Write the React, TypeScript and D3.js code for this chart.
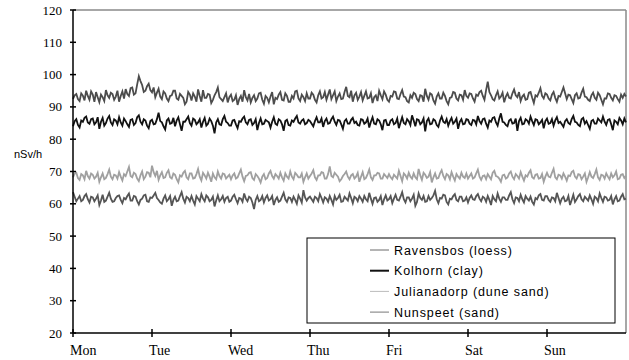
import React from 'react';
import * as d3 from 'd3';

// half-hourly dose rate, nSv/h, Mon 00:00 .. Sun 24:00 (one row per day)
const days = ['Mon', 'Tue', 'Wed', 'Thu', 'Fri', 'Sat', 'Sun'];
const yTicks = [20, 30, 40, 50, 60, 70, 80, 90, 100, 110, 120];

const ravensbos = [
  92.5, 93.6, 94, 92.4, 91.8, 94.2, 93.5, 92, 95, 93.4, 92.2, 94.8, 93.8, 91.6, 94.6, 93, 91.5, 93.8, 93, 91.8, 95.2, 93.6, 92.8, 94.4, 94, 92.2, 93.2, 95, 91.6, 93.4, 94.8, 92.6, 95.5, 94, 93.4, 95.8, 96, 93.8, 94.2, 97, 99.5, 98, 96.8, 94.6, 95, 96.4, 97.2, 95.2,
  94.5, 96, 93, 94.4, 95.6, 93.2, 92.4, 94.8, 94.2, 92.6, 91.8, 93.4, 93.6, 95, 95, 92.6, 92.2, 94, 93.4, 92.8, 90.8, 91.6, 94.6, 93.8, 92, 94.2, 93.2, 91.6, 95.4, 93.4, 91.6, 95.2, 92.8, 92.8, 94, 93.8, 91.2, 92.2, 93.6, 94.6, 96, 93, 92.4, 91.8, 93, 94.2, 91.4, 93,
  93.8, 91.8, 92.2, 93.6, 90.6, 92.4, 93.4, 91.6, 95.2, 93, 92, 94, 91.4, 92.8, 93.6, 91.8, 92.6, 94.2, 94.4, 92.2, 91, 93.4, 92.8, 91.4, 93.2, 94.6, 90.8, 92.8, 92.4, 93.8, 94.6, 92.2, 92, 94.2, 93.4, 91.6, 91.6, 93.4, 92.6, 94.8, 95, 92.6, 91.8, 93.8, 93, 91.8, 94.2, 92.6,
  92.6, 94.4, 93.8, 92.2, 91.4, 93.6, 94.8, 92.6, 93, 94.6, 92.2, 93.8, 95.4, 92.4, 93.6, 94.8, 91.8, 93.2, 94.2, 92.4, 92.6, 94.6, 96.2, 93.4, 93, 95, 91.6, 93.6, 94.4, 92.2, 93.2, 94.6, 92, 93.4, 94.8, 92.6, 92.8, 94.2, 91.2, 93, 93.6, 91.8, 95, 93.6, 92.4, 94.8, 93.8, 92.2,
  91.6, 93.4, 93.2, 94.8, 94.6, 92.6, 92.4, 94, 95.2, 93.2, 93, 91.8, 91.4, 93.6, 92.8, 94.4, 94, 92.4, 91.8, 93.6, 93.4, 91.6, 95.6, 93.4, 92.2, 94.2, 93.8, 92, 91, 93.2, 94.2, 92.6, 92.6, 94.4, 93.4, 91.8, 90.8, 92.8, 93, 94.6, 94.4, 92.6, 92, 93.8, 93.6, 92.2, 95.2, 93.4,
  92.8, 94.2, 94, 92.6, 91.6, 93.8, 93.4, 94.6, 95, 93.4, 92.2, 95.2, 97.8, 94.6, 93.6, 92.4, 92, 93.6, 94.8, 92.6, 93.2, 94.4, 91.4, 93.2, 94.2, 92.8, 92.6, 94.2, 95.4, 93.6, 93, 94.6, 91.8, 93.2, 93.8, 92.2, 92.4, 94.4, 94.6, 92.8, 91.2, 93.6, 93.2, 94.4, 95.8, 93.4, 92.6, 94.2,
  93.8, 92.6, 92, 93.8, 94.6, 92.8, 91.6, 93.4, 93.2, 94.6, 96, 94.2, 92.4, 93.8, 93.6, 92.4, 91.2, 93.6, 94.2, 92.6, 92.8, 94.4, 95.6, 93.2, 93, 92.2, 91.8, 93.6, 94.4, 92.8, 92.2, 94.4, 93.6, 92.2, 90.8, 92.6, 92.6, 94.2, 94, 92.8, 92, 93.6, 93.4, 92.4, 91.6, 93.8, 92.8, 94, 93.2,
];

const kolhorn = [
  84, 85.6, 86.2, 84.4, 83.6, 85.8, 85.4, 86.6, 87, 85.2, 84.8, 86.2, 86.4, 84.6, 85.2, 86.8, 83.2, 85.4, 86.6, 84.2, 85, 86.4, 87.2, 85.2, 84.4, 86.2, 85.8, 84.6, 86.8, 85.2, 84.2, 86.4, 85.6, 84.6, 83.8, 86, 86.2, 84.4, 85, 86.8, 87.4, 85.4, 84.6, 86.2, 85.8, 84.2, 83.4, 85.6,
  86, 84.6, 84.8, 86.2, 88.2, 85.6, 85.2, 84, 83, 85.8, 86.4, 84.8, 85, 86.6, 84, 85.8, 86.8, 84.6, 82.6, 85.4, 85.4, 86.2, 87, 85, 84.2, 86.4, 86, 84.6, 85.2, 86.2, 83.6, 85.4, 86.6, 84.2, 84.8, 86.4, 85.6, 84.2, 81.8, 85.2, 86.2, 84.6, 84.4, 86.2, 87.2, 85.4, 85, 84.2,
  84.2, 85.8, 86, 84.6, 83.4, 85.6, 85.4, 86.4, 87, 85.2, 84.6, 86, 86.2, 84.4, 85, 86.2, 82.8, 85, 86.4, 84.6, 84.8, 86, 85.6, 85.2, 83.6, 85.4, 86.8, 84.8, 84.4, 86.2, 85.8, 84.6, 82.6, 85.6, 86, 84.4, 84.2, 85.8, 85.4, 86.4, 87.2, 85.2, 84.8, 85.8, 86.2, 84.6, 85, 86,
  85.6, 84.8, 84, 85.6, 86.8, 85.2, 85.2, 86.4, 83.8, 85.6, 86.4, 84.8, 85, 86.2, 87, 85.4, 84.4, 86, 85.8, 84.6, 83.2, 85.6, 86.2, 84.8, 84.8, 86, 86.6, 85, 85.4, 84.4, 84.2, 86.2, 86, 84.8, 85.2, 86.4, 83.6, 85.4, 86.8, 84.8, 84.6, 86.2, 85.8, 84.6, 82.8, 85.8, 86, 84.4,
  84.4, 85.8, 86.2, 84.6, 85, 86.4, 83.4, 85.2, 86.8, 85, 84.6, 86.2, 85.6, 84.4, 87.4, 85.8, 84, 86.2, 86, 84.6, 85.2, 86.4, 82.4, 85.6, 86.4, 84.6, 84.8, 86.2, 85.8, 84.4, 83.8, 85.8, 87, 85.4, 85, 86.2, 84.2, 85.6, 86.6, 84.8, 85.4, 86.4, 83.2, 85.4, 86.2, 84.6, 84.8, 86.2,
  86, 84.8, 84.4, 86, 85.8, 84.6, 87.2, 85.6, 84.8, 86.2, 86.4, 84.8, 83.6, 85.8, 85.4, 86.6, 86.8, 85.2, 84.2, 86.4, 88, 85.4, 85.2, 84.4, 84, 85.8, 86.2, 84.8, 85, 86.4, 82.6, 85.6, 86.6, 84.6, 84.8, 86.2, 85.8, 84.8, 87, 85.6, 84.4, 86.2, 86, 84.6, 85.2, 86, 83.4, 85.6,
  86.4, 84.8, 85, 86.2, 84.2, 85.8, 86.8, 85, 85.4, 84.6, 83.8, 85.6, 86.2, 85, 84.6, 86.2, 87.2, 85.4, 85.2, 84.4, 84, 86.2, 86.6, 84.8, 85.6, 84.4, 83.2, 85.6, 86, 84.8, 84.8, 86.4, 85.8, 85.2, 87, 85.4, 84.4, 86, 86.2, 84.6, 82.8, 85.8, 85.4, 84.6, 86.6, 85.8, 84.6, 86.4, 85.2,
];

const julianadorp = [
  68.2, 69.4, 69.6, 68, 67.4, 69.2, 68.8, 67.6, 70.2, 68.6, 67.8, 69.4, 69, 67.8, 68.4, 69.6, 66.8, 68.2, 69.4, 67.6, 68, 69.2, 70.6, 68.4, 67.6, 69, 68.8, 67.8, 69.8, 68.4, 67.2, 69.2, 68.6, 70, 71.4, 68.6, 68.2, 69.6, 69.2, 67.8, 67, 68.8, 70, 67.6, 68.4, 69.8, 69.6, 68.2,
  71.8, 69.8, 68.6, 70.2, 67.4, 68.8, 69.8, 68, 68.2, 69.6, 70.4, 68.2, 67.8, 69.4, 69, 67.6, 66.6, 68.8, 68.4, 69.6, 70.2, 68.2, 67.6, 69.4, 69.4, 67.8, 68, 69.2, 70.8, 68.4, 67.2, 69.6, 68.8, 67.8, 69.6, 68.4, 66.8, 69.4, 68.2, 67.6, 70, 68.6, 67.8, 69.4, 69.2, 67.8, 68.4, 69,
  67.6, 68.8, 69.4, 67.8, 68.2, 69.4, 70.6, 68.4, 67, 68.6, 68.8, 69.6, 69.8, 68, 67.4, 69.2, 68.6, 67.8, 66.6, 68.4, 69.2, 67.6, 68, 69.4, 70.2, 68.6, 67.8, 69.2, 68.6, 67.8, 69.6, 68.2, 67.2, 69.4, 68.4, 67.8, 70, 68.4, 67.6, 69.6, 69, 68.2, 68.2, 69.4, 66.8, 68.2, 69.4, 67.8,
  68.6, 69.4, 70.4, 68.2, 67.4, 68.8, 68.8, 69.8, 69.6, 67.8, 67.8, 69.2, 71.6, 68.6, 68.2, 69.6, 69, 68.4, 67, 67.6, 68.6, 69.2, 70, 68.4, 67.6, 68.8, 69.2, 67.8, 68.4, 69.6, 66.8, 68.4, 69.8, 67.6, 68, 69.2, 70.6, 68.2, 67.4, 68.8, 68.8, 69.6, 69.4, 67.8, 67.8, 69.2, 68.6, 68,
  69.2, 68.2, 67.6, 69, 68.4, 67.8, 70.2, 68.6, 67, 69.4, 68.8, 67.8, 69.6, 68.4, 67.8, 69.4, 68.2, 67.6, 70.8, 68.8, 67.4, 69.6, 69, 68, 68.4, 69.8, 66.6, 68.2, 69.4, 67.8, 68, 69.4, 70.4, 68.6, 67.6, 69.2, 68.8, 67.6, 69.8, 68.4, 67.2, 69.2, 68.4, 67.8, 69.6, 68.4, 68, 69.4,
  67.8, 68.6, 69.4, 67.8, 68.2, 69.4, 70.6, 68.4, 67.4, 68.6, 68.8, 67.6, 69.2, 68.4, 67.6, 69.6, 70.2, 68.6, 68.4, 67.8, 66.8, 68.8, 69, 67.8, 68.2, 69.4, 70, 68.4, 67.6, 69.2, 68.6, 67.8, 69.8, 68.4, 67.2, 68.8, 68.4, 69.6, 70.4, 68.2, 67.8, 69, 69.2, 67.8, 68, 69.2, 66.8, 68.4,
  69.6, 68.4, 68.2, 69.6, 70.8, 68.2, 67.6, 69, 68.8, 67.8, 69.4, 68.4, 67.2, 68.8, 68.6, 69.8, 70.2, 68.4, 67.8, 69.2, 69, 67.6, 68.4, 69.4, 66.8, 68.2, 69.8, 68.4, 68, 69.2, 70.6, 68.2, 67.4, 69, 68.8, 67.8, 69.4, 68.4, 67.6, 69.4, 68.2, 68.8, 70, 67.6, 67.8, 69, 69.2, 68, 68.6,
];

const nunspeet = [
  63.6, 62.2, 60.8, 61.6, 62.4, 60.8, 61.2, 62.4, 63, 61.4, 60.4, 62.2, 62, 60.8, 61.6, 62.6, 59.6, 61, 62.8, 60.6, 61, 62.2, 63.4, 61.6, 60.6, 60.8, 61.8, 62.4, 62.6, 61.2, 60.2, 61.8, 61.4, 62.4, 63.2, 61, 61, 62.4, 62.2, 60.8, 59.8, 61.2, 61.6, 62.6, 62.8, 60.8, 60.6, 62,
  61.8, 62.6, 63.4, 61.8, 61.2, 60.4, 60, 61.6, 62.6, 60.8, 61.4, 62.4, 59.4, 61.2, 62.2, 60.8, 61, 62.4, 63.6, 61.6, 60.4, 62.2, 61.8, 60.8, 62.4, 61, 59.8, 62.4, 61.6, 60.8, 63, 61.6, 60.8, 62.6, 62, 60.8, 61.2, 62.2, 59.2, 61, 62.6, 60.8, 61.4, 62.4, 60.6, 61.8, 62.2, 60.6,
  61, 62.2, 62.8, 61.4, 60.2, 61.8, 61.6, 60.6, 63.2, 61.6, 60.8, 62.2, 61.8, 60.4, 58.4, 61.2, 62.4, 60.8, 61.2, 62.4, 60.4, 61.8, 62.6, 61, 61.4, 62.4, 59.6, 61.2, 62, 60.6, 61, 62.2, 63.4, 61.4, 60.6, 62, 61.8, 60.6, 62.2, 61.2, 60, 62.6, 61.6, 60.4, 64.2, 62, 61, 61.8,
  62.2, 61.4, 60.6, 62.2, 61.8, 60.8, 63, 61.8, 60.4, 62, 61.6, 60.6, 62.4, 61.2, 59.8, 62.4, 61.2, 61.8, 62.8, 60.6, 60.8, 62.2, 61.6, 61, 63.2, 61.8, 60.2, 62.2, 61.8, 60.8, 62.4, 61.6, 60.6, 62.4, 61.4, 60.8, 63.4, 61.6, 60, 61.8, 62, 60.6, 61.2, 62.4, 59.6, 61.4, 62.6, 61,
  61.4, 62.4, 60.2, 61.6, 62.8, 61.2, 61, 62.2, 63.6, 61.4, 60.4, 62, 62, 60.8, 61.6, 62.8, 59.4, 60.6, 63.2, 61.8, 61.2, 62.4, 60.6, 60.8, 62.4, 61.2, 61.8, 62.6, 64, 61.4, 60.2, 61.8, 61.6, 62.8, 62.6, 60.6, 59.8, 61.6, 61.4, 62.4, 63, 61.2, 60.8, 62.2, 62.2, 60.8, 61, 62,
  60.4, 61.8, 62.6, 61.4, 61.2, 62.4, 63, 61.6, 60.8, 62.2, 61.8, 60.6, 62.4, 61.2, 59.6, 62.4, 61.4, 60.8, 63.2, 61.6, 60.6, 62, 62, 61.2, 61.2, 62.6, 63.6, 61.4, 60.2, 62, 61.8, 60.8, 62.8, 61.4, 60.4, 62.4, 61.6, 61, 62.2, 60.6, 59.8, 61.8, 61.4, 62.6, 63, 61.2, 61, 62.4,
  62.4, 61.2, 60.6, 62, 61.8, 60.8, 63.4, 61.8, 60.2, 61.6, 62.2, 60.8, 61, 62.4, 59.6, 61.2, 62.8, 60.6, 61.4, 62.4, 63, 61.4, 60.8, 62.2, 61.6, 61, 62.6, 61.4, 60, 62.2, 61.8, 60.8, 63.2, 61.8, 60.6, 62.2, 62, 61, 61.2, 62.4, 59.8, 61.4, 62.4, 60.8, 61, 62.2, 63, 61.4, 61.6,
];

const series = [
  { name: 'Ravensbos  (loess)', values: ravensbos, color: '#4c4c4c', legend: '#6a6a6a', w: 1 },
  { name: 'Kolhorn (clay)', values: kolhorn, color: '#121212', legend: '#111', w: 2 },
  { name: 'Julianadorp (dune sand)', values: julianadorp, color: '#a0a0a0', legend: '#bbb', w: 1 },
  { name: 'Nunspeet (sand)', values: nunspeet, color: '#555', legend: '#777', w: 1 },
];

const width = 629;
const height = 360;
const left = 73;
const right = 626;
const top = 10;
const bottom = 333;

export default function App() {
  const x = d3.scaleLinear().domain([0, 7 * 24]).range([left, right]); // hours
  const y = d3.scaleLinear().domain([20, 120]).range([bottom, top]);
  const line = d3.line<number>().x((_, i) => x(i / 2)).y(d => y(d));

  return (
    <svg width={width} height={height} style={{ position: 'absolute', left: 0, top: 0, background: '#fff' }}>
      {/* frame */}
      <line x1={left} x2={right} y1={top} y2={top} stroke="#8a8a8a" strokeWidth={1.5} />
      <line x1={right} x2={right} y1={top} y2={bottom} stroke="#8a8a8a" strokeWidth={1.5} />

      {series.map(s => (
        <path key={s.name} d={line(s.values) || ''} fill="none" stroke={s.color} strokeWidth={1.8} />
      ))}

      {/* y axis */}
      <line x1={left} x2={left} y1={top} y2={bottom} stroke="#000" strokeWidth={1.5} />
      {yTicks.map(t => (
        <g key={t}>
          <line x1={left - 3} x2={left + 3} y1={y(t)} y2={y(t)} stroke="#000" strokeWidth={1.5} />
          <text x={62} y={y(t) + 4.5} textAnchor="end" fontFamily="Liberation Serif" fontSize={13}>{t}</text>
        </g>
      ))}
      <text x={14} y={158} fontFamily="Liberation Sans" fontSize={11}>nSv/h</text>

      {/* x axis */}
      <line x1={left} x2={right} y1={bottom} y2={bottom} stroke="#000" strokeWidth={1.5} />
      {days.map((d, i) => (
        <g key={d}>
          <line x1={x(i * 24)} x2={x(i * 24)} y1={bottom - 4} y2={bottom + 4} stroke="#000" strokeWidth={1.5} />
          <text x={x(i * 24) - 3} y={355} fontFamily="Liberation Serif" fontSize={14}>{d}</text>
        </g>
      ))}

      {/* legend */}
      <rect x={307} y={238} width={308} height={85} fill="#fff" stroke="#000" strokeWidth={1} />
      {series.map((s, i) => (
        <g key={s.name} transform={`translate(0,${250 + i * 20.7})`}>
          <line x1={370} x2={389} y1={0} y2={0} stroke={s.legend} strokeWidth={s.w} />
          <text x={394} y={4.5} fontFamily="Liberation Sans" fontSize={12.5} letterSpacing={0.9}>{s.name}</text>
        </g>
      ))}
    </svg>
  );
}
